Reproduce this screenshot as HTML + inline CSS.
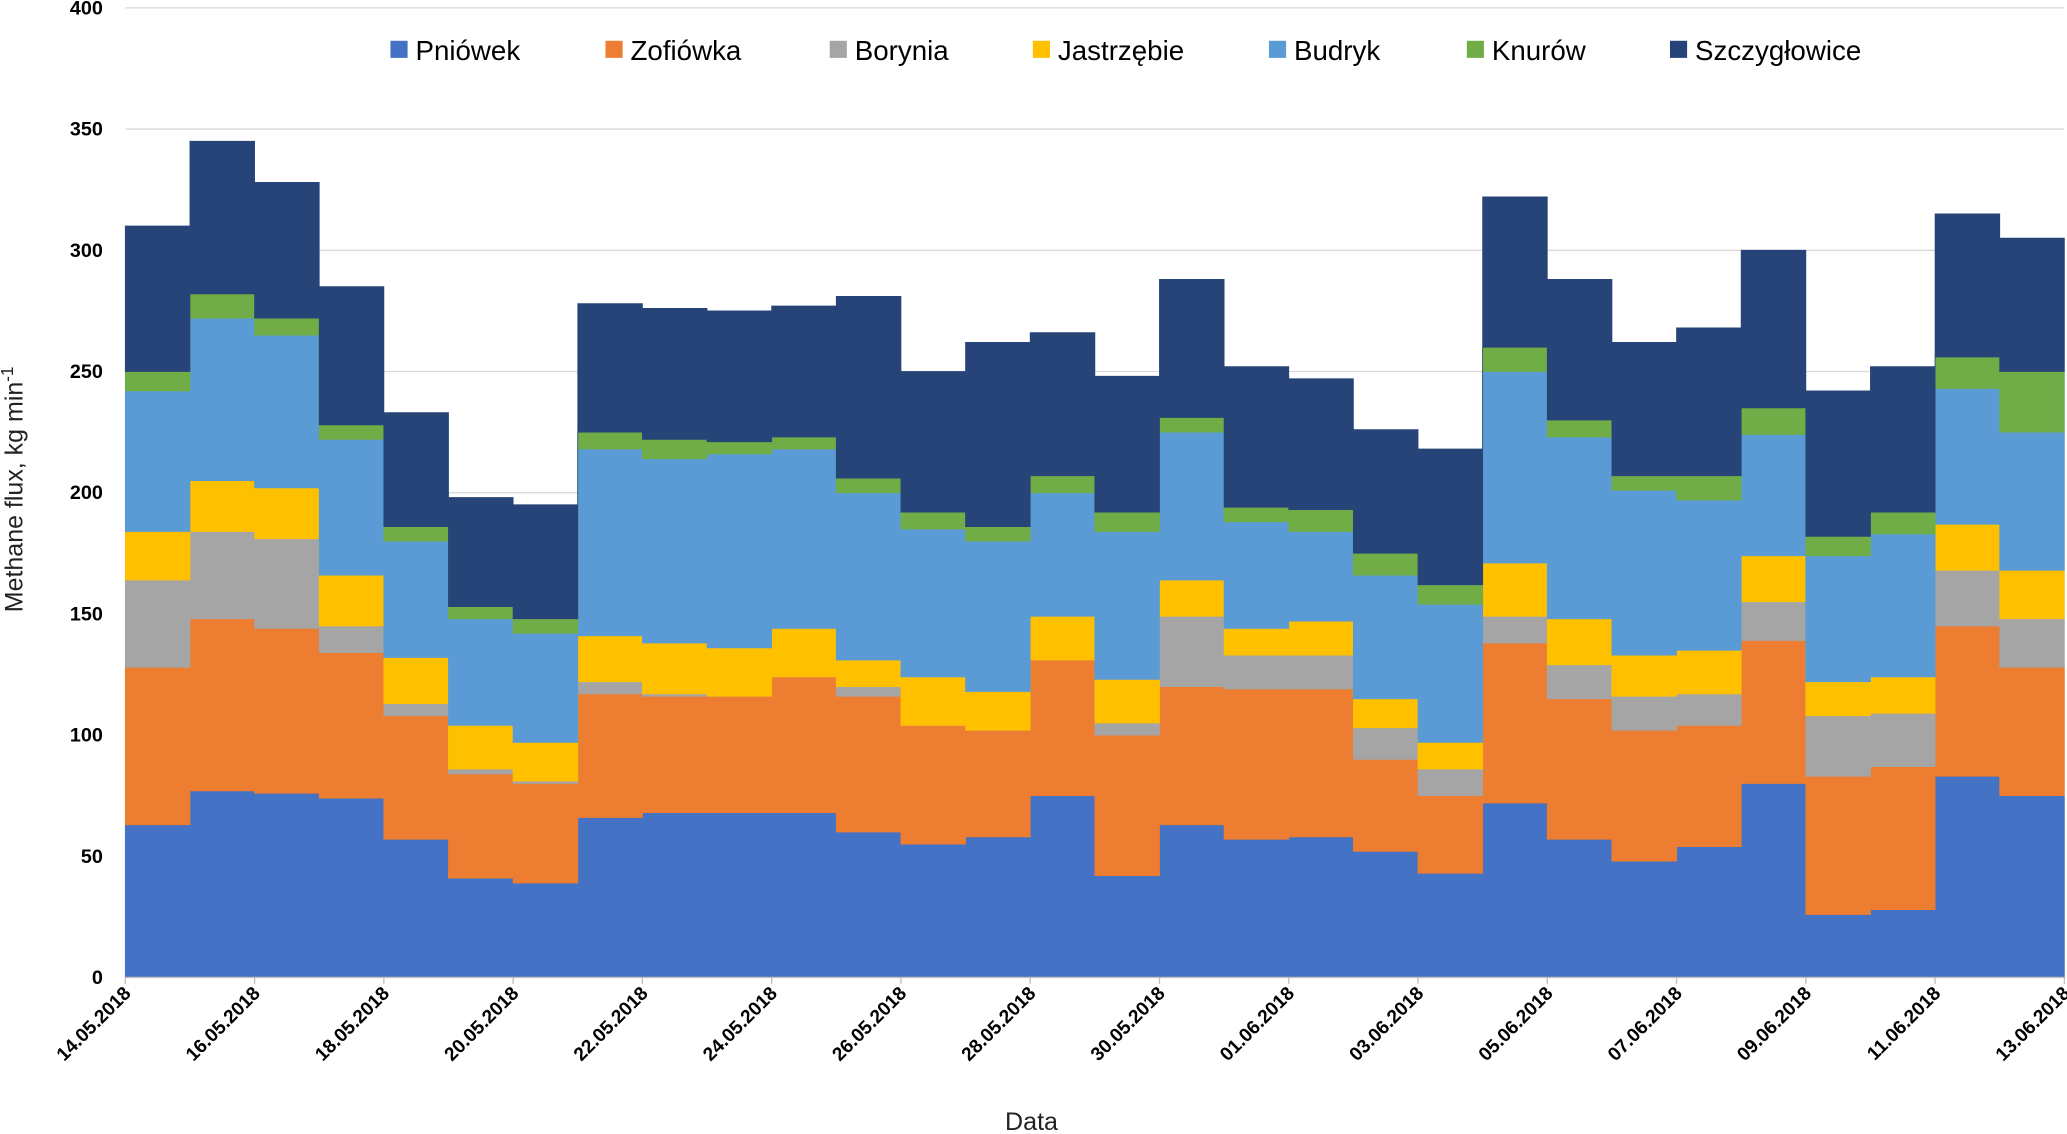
<!DOCTYPE html>
<html><head><meta charset="utf-8"><style>
html,body{margin:0;padding:0;background:#fff}
svg{display:block}
text{font-family:"Liberation Sans","DejaVu Sans",sans-serif}
</style></head><body>
<svg id="chart" width="2067" height="1134" viewBox="0 0 1567 862" preserveAspectRatio="none" xmlns="http://www.w3.org/2000/svg">
<g id="grid"></g><g id="areas"></g><g id="axes"></g><g id="legend"></g>
<text transform="translate(17,372) rotate(-90)" text-anchor="middle" font-size="19" fill="#222">Methane flux, kg min<tspan dy="-7" font-size="13">-1</tspan></text>
<text x="782" y="859" text-anchor="middle" font-size="19" fill="#222">Data</text>
</svg>
<script>
const dateLabels=["14.05.2018","16.05.2018","18.05.2018","20.05.2018","22.05.2018","24.05.2018","26.05.2018","28.05.2018","30.05.2018","01.06.2018","03.06.2018","05.06.2018","07.06.2018","09.06.2018","11.06.2018","13.06.2018"];
const yTicks=[0,50,100,150,200,250,300,350,400];
const seriesNames=["Pniówek","Zofiówka","Borynia","Jastrzębie","Budryk","Knurów","Szczygłowice"];
const seriesColors=["#4472c4","#ed7d31","#a5a5a5","#ffc000","#5b9bd5","#70ad47","#264478"];
const pniowek=[63,77,76,74,57,41,39,66,68,68,68,60,55,58,75,42,63,57,58,52,43,72,57,48,54,80,26,28,83,75];
const zofiowka=[65,71,68,60,51,43,41,51,48,48,56,56,49,44,56,58,57,62,61,38,32,66,58,54,50,59,57,59,62,53];
const borynia=[36,36,37,11,5,2,1,5,1,0,0,4,0,0,0,5,29,14,14,13,11,11,14,14,13,16,25,22,23,20];
const jastrzebie=[20,21,21,21,19,18,16,19,21,20,20,11,20,16,18,18,15,11,14,12,11,22,19,17,18,19,14,15,19,20];
const budryk=[58,67,63,56,48,44,45,77,76,80,74,69,61,62,51,61,61,44,37,51,57,79,75,68,62,50,52,59,56,57];
const knurow=[8,10,7,6,6,5,6,7,8,5,5,6,7,6,7,8,6,6,9,9,8,10,7,6,10,11,8,9,13,25];
const szczyglowice=[60,63,56,57,47,45,47,53,54,54,54,75,58,76,59,56,57,58,54,51,56,62,58,55,61,65,60,60,59,55];
const series=[pniowek,zofiowka,borynia,jastrzebie,budryk,knurow,szczyglowice];
const NS="http://www.w3.org/2000/svg";
const X0=95,X1=1565,Y0=743,YTOP=6,nDays=pniowek.length;
const x=d=>X0+(X1-X0)*d/nDays;
const y=v=>Y0-(Y0-YTOP)*v/400;
function mk(tag,attrs,parent){const e=document.createElementNS(NS,tag);for(const k in attrs)e.setAttribute(k,attrs[k]);parent.appendChild(e);return e;}
const grid=document.getElementById('grid'),areas=document.getElementById('areas'),axes=document.getElementById('axes'),legend=document.getElementById('legend');
yTicks.forEach(t=>{
 if(t>0){const l=mk('line',{x1:X0,x2:X1,y1:y(t),y2:y(t),stroke:'#d9d9d9','stroke-width':1},grid);
 
 }
 const tx=mk('text',{x:78,y:y(t)+5,'text-anchor':'end','font-size':15,'font-weight':'bold',fill:'#000'},axes);tx.textContent=t;
 
 
});
let base=new Array(nDays).fill(0);
series.forEach((s,i)=>{
 const top=base.map((b,d)=>b+s[d]);
 let p='';
 for(let d=0;d<nDays;d++){p+=(d===0?'M':'L')+x(d)+','+y(top[d])+'L'+x(d+1)+','+y(top[d]);}
 for(let d=nDays-1;d>=0;d--){p+='L'+x(d+1)+','+y(base[d])+'L'+x(d)+','+y(base[d]);}
 p+='Z';
 const a=mk('path',{d:p,fill:seriesColors[i],stroke:seriesColors[i],'stroke-width':0.6},areas);
 
 
 base=top;
});
const ax=mk('line',{x1:X0,x2:X1,y1:Y0,y2:Y0,stroke:'#bfbfbf','stroke-width':1},axes);


dateLabels.forEach((lab,i)=>{
 const xx=x(i*2);
 mk('line',{x1:xx,x2:xx,y1:Y0,y2:Y0+5,stroke:'#bfbfbf'},axes);
 const t=mk('text',{transform:`translate(${xx+5},${Y0+13}) rotate(-45)`,'text-anchor':'end','font-size':14.5,'font-weight':'bold',fill:'#000'},axes);
 t.textContent=lab;
 
 
});
const legX=[296,459,629,783,962,1112,1266];
seriesNames.forEach((n,i)=>{
 const g=mk('g',{},legend);
 
 
 mk('rect',{x:legX[i],y:31,width:13,height:13,fill:seriesColors[i]},g);
 const t=mk('text',{x:legX[i]+19,y:45.5,'font-size':21,fill:'#000'},g);t.textContent=n;
});
</script>
</body></html>
